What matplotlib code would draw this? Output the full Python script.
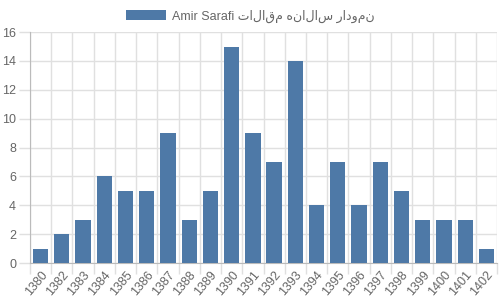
import matplotlib
matplotlib.use("Agg")
import matplotlib.pyplot as plt
import numpy as np

# data
years = ["1380", "1382", "1383", "1384", "1385", "1386", "1387", "1388", "1389", "1390", "1391",
         "1392", "1393", "1394", "1395", "1396", "1397", "1398", "1399", "1400", "1401", "1402"]
counts = [1, 2, 3, 6, 5, 5, 9, 3, 5, 15, 9, 7, 14, 4, 7, 4, 7, 5, 3, 3, 3, 1]
title_fa = "نمودار سالانه مقالات"
author = "Amir Sarafi"

bar_color = "#4e79a7"
grid_color = "#e0e0e0"
text_color = "#666666"
fonts = ["Liberation Sans", "DejaVu Sans"]

fig = plt.figure(figsize=(5, 3), dpi=100)
ax = fig.add_axes([0.06, 0.123, 0.934, 0.770])

x = np.arange(len(years))
bars = ax.bar(x, counts, width=0.72, color=bar_color, zorder=3,
              label=author + " " + title_fa[::-1])

ax.set_xlim(-0.5, len(years) - 0.5)
ax.set_ylim(0, 16)
ax.set_yticks(range(0, 17, 2))
ax.set_xticks(x)
ax.set_xticklabels(years, rotation=50, ha="right", rotation_mode="anchor",
                   family=fonts, fontsize=9, color=text_color)
for lab in ax.get_yticklabels():
    lab.set_family(fonts)
    lab.set_fontsize(9)
    lab.set_color(text_color)

# gridlines between categories, like chart.js offset grid
ax.set_xticks(np.arange(-0.5, len(years), 1), minor=True)
ax.tick_params(axis="x", which="major", length=0, pad=4)
ax.tick_params(axis="x", which="minor", length=8, color=grid_color, width=1)
ax.tick_params(axis="y", length=8, color=grid_color, width=1, pad=2)
ax.grid(True, which="minor", axis="x", color=grid_color, linewidth=1, zorder=0)
ax.grid(True, which="major", axis="y", color=grid_color, linewidth=1, zorder=0)

for side in ["top", "right"]:
    ax.spines[side].set_visible(False)
ax.spines["left"].set_color("#bbbbbb")
ax.spines["bottom"].set_color("#bbbbbb")

leg = fig.legend(loc="center", bbox_to_anchor=(0.5, 0.947), frameon=False,
                 handlelength=3.2, handleheight=0.95, handletextpad=0.5,
                 prop={"family": fonts, "size": 9})
for t in leg.get_texts():
    t.set_color(text_color)

fig.savefig("out.png", dpi=100)
